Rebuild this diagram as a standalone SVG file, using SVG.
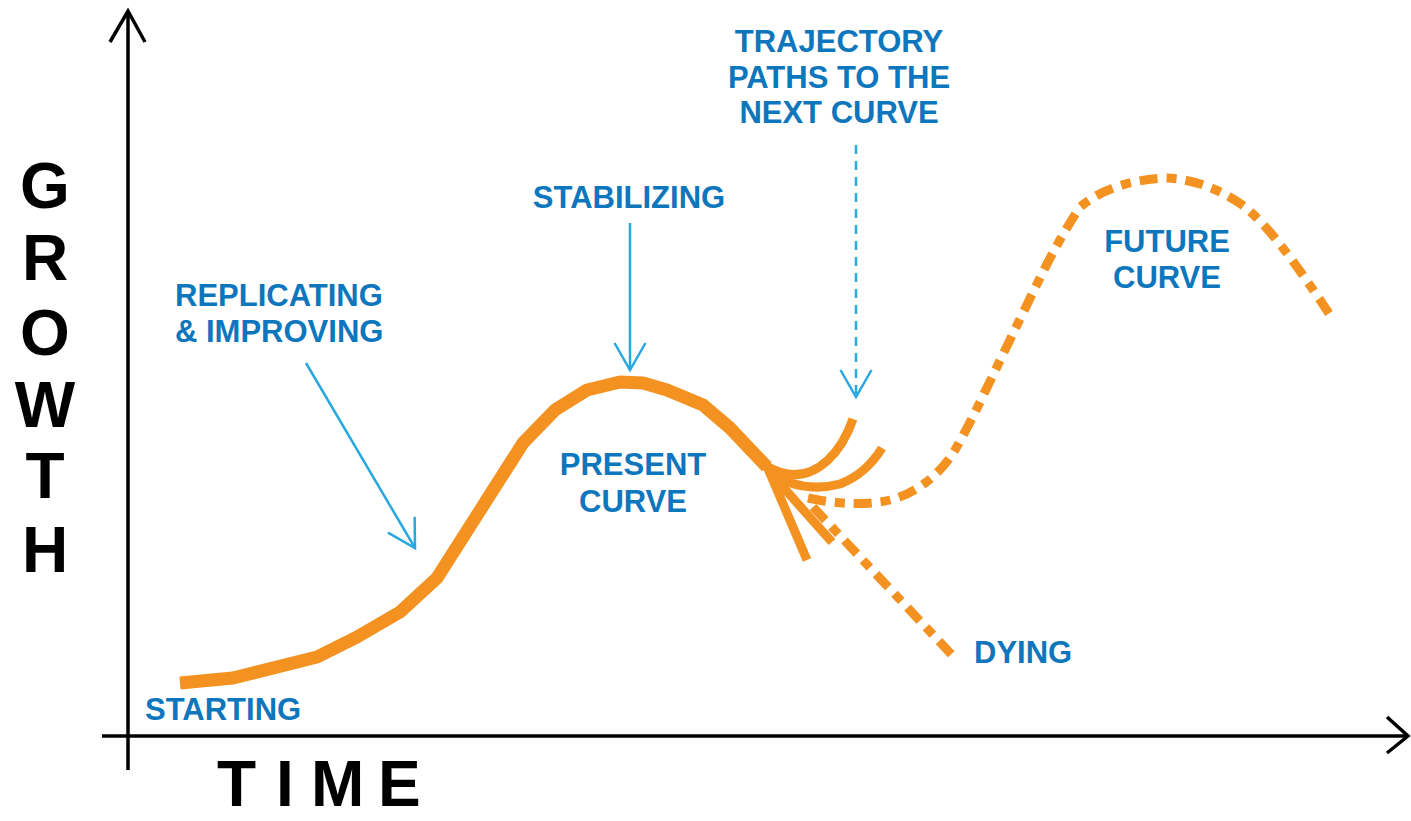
<svg xmlns="http://www.w3.org/2000/svg" width="1411" height="821" viewBox="0 0 1411 821">
  <style>
    .axis { fill: none; stroke: #000; stroke-width: 3.5; }
    .axis-label { font-family: "Liberation Sans", Arial, sans-serif; font-weight: bold; font-size: 64px; fill: #000; }
    .label { font-family: "Liberation Sans", Arial, sans-serif; font-weight: bold; font-size: 31px; fill: #0E76BC; }
    .pointer { fill: none; stroke: #29A8E0; stroke-width: 2.5; }
    .curve { fill: none; stroke: #F39221; stroke-linejoin: round; }
    .present { stroke-width: 13; }
    .branch { stroke-width: 9; stroke-linecap: butt; }
    .dashed { stroke-width: 9; stroke-dasharray: 18 9 10 9; }
  </style>
  <defs>
    <marker id="open-arrow" markerUnits="userSpaceOnUse" markerWidth="40" markerHeight="40" viewBox="-30 -20 34 40" refX="0" refY="0" orient="auto">
      <path d="M-27,-15.5 L0,0 L-27,15.5" fill="none" stroke="#29A8E0" stroke-width="2.5" stroke-dasharray="none"/>
    </marker>
  </defs>
  <rect width="1411" height="821" fill="#fff"/>

  <!-- axes -->
  <g id="axes">
    <line class="axis" x1="128" y1="11" x2="128" y2="770"/>
    <polyline class="axis" points="110,42 128,11 145,42"/>
    <line class="axis" x1="102" y1="736" x2="1407" y2="736"/>
    <polyline class="axis" points="1387,717 1408,736 1387,753"/>
  </g>

  <!-- vertical axis title -->
  <g id="growth-label" class="axis-label" text-anchor="middle">
    <text x="45" y="208">G</text>
    <text x="45" y="280">R</text>
    <text x="45" y="355">O</text>
    <text x="45" y="427">W</text>
    <text x="45" y="498">T</text>
    <text x="45" y="572">H</text>
  </g>

  <!-- horizontal axis title -->
  <g id="time-label" class="axis-label">
    <text x="217" y="806">T</text>
    <text x="276" y="806">I</text>
    <text x="311" y="806">M</text>
    <text x="378" y="806">E</text>
  </g>

  <!-- curves -->
  <g id="connectors">
    <g id="present-curve">
      <polyline class="curve present" points="180,683 233,678 317,657 357,637 400,612 437,578 523,443 555,410 587,390 620,382 643,383 667,390 703,405 730,428 767,467"/>
      <path class="curve branch" d="M766,464 L807,560" stroke-width="11"/>
      <path class="curve branch" d="M768,470 Q805,512 832,542"/>
      <path class="curve branch" d="M766,466 Q800,486 828,460 Q844,445 853,419"/>
      <path class="curve branch" d="M768,472 Q802,494 840,484 Q866,474 882,448"/>
    </g>
    <path id="future-curve" class="curve dashed" d="M808,498 C840,505 870,505 890,500 C915,494 940,475 955,450 C975,415 995,370 1022,315 C1040,278 1055,245 1080,207 C1100,190 1130,180 1163,178 C1195,178 1225,192 1245,207 C1270,228 1295,262 1332,318"/>
    <path id="dying-curve" class="curve dashed" d="M813,507 L952,655"/>

    <!-- pointers from labels -->
    <line class="pointer" x1="306" y1="363" x2="415" y2="548" marker-end="url(#open-arrow)"/>
    <line class="pointer" x1="630" y1="223" x2="630" y2="370" marker-end="url(#open-arrow)"/>
    <line class="pointer" x1="856" y1="145" x2="856" y2="397" stroke-dasharray="9 7" marker-end="url(#open-arrow)"/>
  </g>

  <!-- labels -->
  <g id="starting" class="label"><text x="145" y="720">STARTING</text></g>
  <g id="replicating" class="label">
    <text x="175" y="306">REPLICATING</text>
    <text x="175" y="342">&amp; IMPROVING</text>
  </g>
  <g id="stabilizing" class="label" text-anchor="middle"><text x="629" y="208">STABILIZING</text></g>
  <g id="present" class="label" text-anchor="middle">
    <text x="633" y="475">PRESENT</text>
    <text x="633" y="512">CURVE</text>
  </g>
  <g id="trajectory" class="label" text-anchor="middle">
    <text x="839" y="52">TRAJECTORY</text>
    <text x="839" y="88">PATHS TO THE</text>
    <text x="839" y="123">NEXT CURVE</text>
  </g>
  <g id="future" class="label" text-anchor="middle">
    <text x="1167" y="252">FUTURE</text>
    <text x="1167" y="288">CURVE</text>
  </g>
  <g id="dying" class="label"><text x="974" y="663">DYING</text></g>
</svg>
